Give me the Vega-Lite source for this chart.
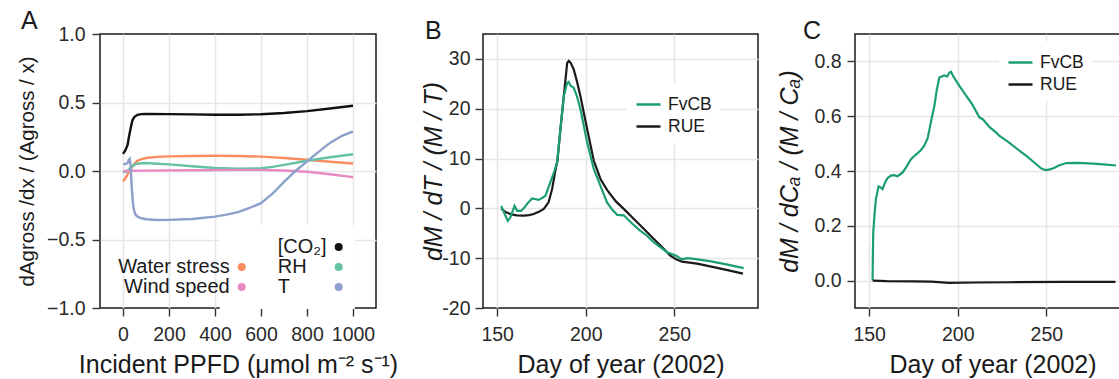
{
  "$schema": "https://vega.github.io/schema/vega-lite/v6.json",
  "autosize": {"type": "none"},
  "padding": {"left": 100, "top": 34, "right": 1019, "bottom": 345},
  "background": "white",
  "spacing": 107,
  "bounds": "flush",
  "resolve": {"scale": {"color": "independent", "x": "independent", "y": "independent"}, "legend": {"color": "independent"}},
  "config": {
    "font": "Liberation Sans",
    "view": {"stroke": "#1a1a1a", "strokeWidth": 1.5},
    "axis": {"domain": false, "grid": true, "gridColor": "#e6e6e6", "gridWidth": 1.6, "ticks": true, "tickColor": "#333333", "tickSize": 8, "tickWidth": 1.4, "labelFont": "Liberation Sans", "labelFontSize": 19.5, "labelColor": "#2a2a2a", "titleFont": "Liberation Sans", "titleFontSize": 25, "titleFontWeight": "normal", "titleColor": "#1a1a1a", "labelOverlap": false, "labelFlush": false},
    "axisX": {"labelPadding": 9, "titlePadding": 9},
    "legend": {"labelFont": "Liberation Sans", "labelColor": "#1a1a1a"},
    "title": {"font": "Liberation Sans", "fontSize": 25, "fontWeight": "normal", "anchor": "start", "frame": "group", "color": "#1a1a1a", "baseline": "alphabetic", "offset": -10}
  },
  "datasets": {
    "a": [
      {"v": "[CO₂]", "ppfd": 0, "val": 0.125}, {"v": "[CO₂]", "ppfd": 10, "val": 0.15}, {"v": "[CO₂]", "ppfd": 20, "val": 0.19}, {"v": "[CO₂]", "ppfd": 26, "val": 0.25}, {"v": "[CO₂]", "ppfd": 33, "val": 0.31}, {"v": "[CO₂]", "ppfd": 41, "val": 0.37}, {"v": "[CO₂]", "ppfd": 50, "val": 0.395}, {"v": "[CO₂]", "ppfd": 63, "val": 0.41}, {"v": "[CO₂]", "ppfd": 80, "val": 0.415}, {"v": "[CO₂]", "ppfd": 100, "val": 0.416}, {"v": "[CO₂]", "ppfd": 200, "val": 0.415}, {"v": "[CO₂]", "ppfd": 300, "val": 0.413}, {"v": "[CO₂]", "ppfd": 400, "val": 0.411}, {"v": "[CO₂]", "ppfd": 500, "val": 0.411}, {"v": "[CO₂]", "ppfd": 600, "val": 0.414}, {"v": "[CO₂]", "ppfd": 700, "val": 0.423}, {"v": "[CO₂]", "ppfd": 800, "val": 0.437}, {"v": "[CO₂]", "ppfd": 900, "val": 0.456}, {"v": "[CO₂]", "ppfd": 1000, "val": 0.476},
      {"v": "Water stress", "ppfd": 0, "val": -0.075}, {"v": "Water stress", "ppfd": 10, "val": -0.055}, {"v": "Water stress", "ppfd": 20, "val": -0.025}, {"v": "Water stress", "ppfd": 30, "val": 0.005}, {"v": "Water stress", "ppfd": 41, "val": 0.033}, {"v": "Water stress", "ppfd": 50, "val": 0.055}, {"v": "Water stress", "ppfd": 63, "val": 0.075}, {"v": "Water stress", "ppfd": 80, "val": 0.087}, {"v": "Water stress", "ppfd": 100, "val": 0.095}, {"v": "Water stress", "ppfd": 150, "val": 0.103}, {"v": "Water stress", "ppfd": 200, "val": 0.107}, {"v": "Water stress", "ppfd": 300, "val": 0.11}, {"v": "Water stress", "ppfd": 400, "val": 0.111}, {"v": "Water stress", "ppfd": 500, "val": 0.11}, {"v": "Water stress", "ppfd": 600, "val": 0.105}, {"v": "Water stress", "ppfd": 700, "val": 0.095}, {"v": "Water stress", "ppfd": 800, "val": 0.082}, {"v": "Water stress", "ppfd": 900, "val": 0.068}, {"v": "Water stress", "ppfd": 1000, "val": 0.055},
      {"v": "RH", "ppfd": 0, "val": -0.01}, {"v": "RH", "ppfd": 15, "val": -0.005}, {"v": "RH", "ppfd": 26, "val": 0.012}, {"v": "RH", "ppfd": 40, "val": 0.035}, {"v": "RH", "ppfd": 55, "val": 0.05}, {"v": "RH", "ppfd": 70, "val": 0.055}, {"v": "RH", "ppfd": 100, "val": 0.058}, {"v": "RH", "ppfd": 150, "val": 0.053}, {"v": "RH", "ppfd": 200, "val": 0.048}, {"v": "RH", "ppfd": 300, "val": 0.035}, {"v": "RH", "ppfd": 400, "val": 0.022}, {"v": "RH", "ppfd": 500, "val": 0.017}, {"v": "RH", "ppfd": 600, "val": 0.02}, {"v": "RH", "ppfd": 650, "val": 0.03}, {"v": "RH", "ppfd": 700, "val": 0.045}, {"v": "RH", "ppfd": 800, "val": 0.075}, {"v": "RH", "ppfd": 900, "val": 0.1}, {"v": "RH", "ppfd": 1000, "val": 0.122},
      {"v": "Wind speed", "ppfd": 0, "val": 0.0}, {"v": "Wind speed", "ppfd": 100, "val": 0.003}, {"v": "Wind speed", "ppfd": 300, "val": 0.006}, {"v": "Wind speed", "ppfd": 500, "val": 0.008}, {"v": "Wind speed", "ppfd": 600, "val": 0.008}, {"v": "Wind speed", "ppfd": 700, "val": 0.004}, {"v": "Wind speed", "ppfd": 800, "val": -0.005}, {"v": "Wind speed", "ppfd": 900, "val": -0.024}, {"v": "Wind speed", "ppfd": 1000, "val": -0.045},
      {"v": "T", "ppfd": 0, "val": 0.05}, {"v": "T", "ppfd": 10, "val": 0.05}, {"v": "T", "ppfd": 20, "val": 0.058}, {"v": "T", "ppfd": 26, "val": 0.085}, {"v": "T", "ppfd": 29, "val": 0.09}, {"v": "T", "ppfd": 32, "val": 0.06}, {"v": "T", "ppfd": 35, "val": -0.02}, {"v": "T", "ppfd": 38, "val": -0.12}, {"v": "T", "ppfd": 42, "val": -0.21}, {"v": "T", "ppfd": 46, "val": -0.27}, {"v": "T", "ppfd": 52, "val": -0.31}, {"v": "T", "ppfd": 60, "val": -0.33}, {"v": "T", "ppfd": 80, "val": -0.345}, {"v": "T", "ppfd": 100, "val": -0.352}, {"v": "T", "ppfd": 150, "val": -0.358}, {"v": "T", "ppfd": 200, "val": -0.357}, {"v": "T", "ppfd": 300, "val": -0.35}, {"v": "T", "ppfd": 400, "val": -0.333}, {"v": "T", "ppfd": 450, "val": -0.318}, {"v": "T", "ppfd": 500, "val": -0.3}, {"v": "T", "ppfd": 550, "val": -0.27}, {"v": "T", "ppfd": 600, "val": -0.235}, {"v": "T", "ppfd": 650, "val": -0.165}, {"v": "T", "ppfd": 700, "val": -0.08}, {"v": "T", "ppfd": 750, "val": 0.0}, {"v": "T", "ppfd": 800, "val": 0.07}, {"v": "T", "ppfd": 850, "val": 0.14}, {"v": "T", "ppfd": 900, "val": 0.205}, {"v": "T", "ppfd": 950, "val": 0.255}, {"v": "T", "ppfd": 1000, "val": 0.29}
    ],
    "b": [
      {"m": "RUE", "day": 152.3, "val": -0.1}, {"m": "RUE", "day": 155, "val": -0.8}, {"m": "RUE", "day": 157.5, "val": -1.15}, {"m": "RUE", "day": 161, "val": -1.4}, {"m": "RUE", "day": 165, "val": -1.47}, {"m": "RUE", "day": 168, "val": -1.35}, {"m": "RUE", "day": 170.6, "val": -1.14}, {"m": "RUE", "day": 173.5, "val": -0.7}, {"m": "RUE", "day": 176.3, "val": -0.1}, {"m": "RUE", "day": 179, "val": 1.2}, {"m": "RUE", "day": 181, "val": 3.9}, {"m": "RUE", "day": 183, "val": 7.9}, {"m": "RUE", "day": 184, "val": 9.5}, {"m": "RUE", "day": 185.7, "val": 15.9}, {"m": "RUE", "day": 187.6, "val": 22.5}, {"m": "RUE", "day": 189.5, "val": 29.2}, {"m": "RUE", "day": 190.4, "val": 29.6}, {"m": "RUE", "day": 191.5, "val": 29.2}, {"m": "RUE", "day": 193.2, "val": 27.9}, {"m": "RUE", "day": 195, "val": 25.5}, {"m": "RUE", "day": 197, "val": 22.5}, {"m": "RUE", "day": 199, "val": 19}, {"m": "RUE", "day": 200.8, "val": 15.9}, {"m": "RUE", "day": 204.5, "val": 9.6}, {"m": "RUE", "day": 208.3, "val": 5.9}, {"m": "RUE", "day": 212, "val": 3.7}, {"m": "RUE", "day": 217, "val": 1.4}, {"m": "RUE", "day": 222, "val": -0.3}, {"m": "RUE", "day": 227, "val": -2.1}, {"m": "RUE", "day": 232.7, "val": -4.1}, {"m": "RUE", "day": 238, "val": -6.0}, {"m": "RUE", "day": 244, "val": -8.1}, {"m": "RUE", "day": 247.7, "val": -9.5}, {"m": "RUE", "day": 251, "val": -10.2}, {"m": "RUE", "day": 254.3, "val": -10.7}, {"m": "RUE", "day": 262.8, "val": -11.1}, {"m": "RUE", "day": 272.2, "val": -11.8}, {"m": "RUE", "day": 280, "val": -12.4}, {"m": "RUE", "day": 288.7, "val": -13.1},
      {"m": "FvCB", "day": 152.3, "val": 0.5}, {"m": "FvCB", "day": 153.8, "val": -0.8}, {"m": "FvCB", "day": 156, "val": -2.5}, {"m": "FvCB", "day": 157.5, "val": -1.8}, {"m": "FvCB", "day": 159.8, "val": 0.5}, {"m": "FvCB", "day": 161.3, "val": -0.5}, {"m": "FvCB", "day": 163.5, "val": -0.5}, {"m": "FvCB", "day": 165, "val": 0.0}, {"m": "FvCB", "day": 166.9, "val": 0.9}, {"m": "FvCB", "day": 169.7, "val": 2.0}, {"m": "FvCB", "day": 173.5, "val": 1.7}, {"m": "FvCB", "day": 177.2, "val": 2.5}, {"m": "FvCB", "day": 180, "val": 5.2}, {"m": "FvCB", "day": 182, "val": 7.2}, {"m": "FvCB", "day": 183.8, "val": 9.2}, {"m": "FvCB", "day": 185.7, "val": 15.9}, {"m": "FvCB", "day": 187.6, "val": 22.5}, {"m": "FvCB", "day": 189.5, "val": 25.2}, {"m": "FvCB", "day": 190.3, "val": 25.4}, {"m": "FvCB", "day": 191.5, "val": 24.6}, {"m": "FvCB", "day": 193.2, "val": 24.2}, {"m": "FvCB", "day": 195, "val": 22.5}, {"m": "FvCB", "day": 197, "val": 19.9}, {"m": "FvCB", "day": 200.8, "val": 13.2}, {"m": "FvCB", "day": 204.5, "val": 7.9}, {"m": "FvCB", "day": 208.3, "val": 4.5}, {"m": "FvCB", "day": 212, "val": 1.2}, {"m": "FvCB", "day": 215, "val": -0.3}, {"m": "FvCB", "day": 217.7, "val": -1.3}, {"m": "FvCB", "day": 221.4, "val": -1.4}, {"m": "FvCB", "day": 226, "val": -3.0}, {"m": "FvCB", "day": 230.8, "val": -4.5}, {"m": "FvCB", "day": 234, "val": -5.3}, {"m": "FvCB", "day": 238.3, "val": -6.8}, {"m": "FvCB", "day": 242, "val": -7.8}, {"m": "FvCB", "day": 245.9, "val": -8.8}, {"m": "FvCB", "day": 249.6, "val": -9.3}, {"m": "FvCB", "day": 251.5, "val": -9.6}, {"m": "FvCB", "day": 253.4, "val": -10.1}, {"m": "FvCB", "day": 255, "val": -10.2}, {"m": "FvCB", "day": 257.2, "val": -10.0}, {"m": "FvCB", "day": 260, "val": -10.1}, {"m": "FvCB", "day": 270, "val": -10.6}, {"m": "FvCB", "day": 280, "val": -11.3}, {"m": "FvCB", "day": 289.1, "val": -12.0}
    ],
    "c": [
      {"m": "FvCB", "day": 151.9, "val": 0.0}, {"m": "FvCB", "day": 152.1, "val": 0.1}, {"m": "FvCB", "day": 152.3, "val": 0.176}, {"m": "FvCB", "day": 153, "val": 0.24}, {"m": "FvCB", "day": 153.8, "val": 0.298}, {"m": "FvCB", "day": 155.3, "val": 0.344}, {"m": "FvCB", "day": 156.5, "val": 0.34}, {"m": "FvCB", "day": 157.5, "val": 0.334}, {"m": "FvCB", "day": 159.4, "val": 0.364}, {"m": "FvCB", "day": 160.5, "val": 0.375}, {"m": "FvCB", "day": 162.3, "val": 0.383}, {"m": "FvCB", "day": 164, "val": 0.385}, {"m": "FvCB", "day": 166, "val": 0.381}, {"m": "FvCB", "day": 168.9, "val": 0.395}, {"m": "FvCB", "day": 171, "val": 0.415}, {"m": "FvCB", "day": 173.6, "val": 0.443}, {"m": "FvCB", "day": 176.4, "val": 0.46}, {"m": "FvCB", "day": 179, "val": 0.475}, {"m": "FvCB", "day": 181.1, "val": 0.492}, {"m": "FvCB", "day": 183, "val": 0.52}, {"m": "FvCB", "day": 184, "val": 0.551}, {"m": "FvCB", "day": 185.5, "val": 0.6}, {"m": "FvCB", "day": 186.8, "val": 0.637}, {"m": "FvCB", "day": 188, "val": 0.69}, {"m": "FvCB", "day": 189.6, "val": 0.741}, {"m": "FvCB", "day": 191, "val": 0.745}, {"m": "FvCB", "day": 192.4, "val": 0.749}, {"m": "FvCB", "day": 194, "val": 0.745}, {"m": "FvCB", "day": 195.3, "val": 0.759}, {"m": "FvCB", "day": 196.2, "val": 0.762}, {"m": "FvCB", "day": 197.5, "val": 0.745}, {"m": "FvCB", "day": 199.1, "val": 0.729}, {"m": "FvCB", "day": 201, "val": 0.71}, {"m": "FvCB", "day": 204.8, "val": 0.674}, {"m": "FvCB", "day": 208, "val": 0.645}, {"m": "FvCB", "day": 212.3, "val": 0.595}, {"m": "FvCB", "day": 214.1, "val": 0.589}, {"m": "FvCB", "day": 218, "val": 0.56}, {"m": "FvCB", "day": 221.7, "val": 0.54}, {"m": "FvCB", "day": 223.6, "val": 0.528}, {"m": "FvCB", "day": 229.2, "val": 0.503}, {"m": "FvCB", "day": 233, "val": 0.483}, {"m": "FvCB", "day": 238.7, "val": 0.455}, {"m": "FvCB", "day": 243, "val": 0.432}, {"m": "FvCB", "day": 247, "val": 0.41}, {"m": "FvCB", "day": 249, "val": 0.404}, {"m": "FvCB", "day": 251, "val": 0.404}, {"m": "FvCB", "day": 254, "val": 0.41}, {"m": "FvCB", "day": 257, "val": 0.42}, {"m": "FvCB", "day": 261.3, "val": 0.429}, {"m": "FvCB", "day": 268, "val": 0.43}, {"m": "FvCB", "day": 276.4, "val": 0.427}, {"m": "FvCB", "day": 282, "val": 0.424}, {"m": "FvCB", "day": 289.3, "val": 0.42},
      {"m": "RUE", "day": 152, "val": 0.0}, {"m": "RUE", "day": 160, "val": -0.002}, {"m": "RUE", "day": 175, "val": -0.003}, {"m": "RUE", "day": 185, "val": -0.004}, {"m": "RUE", "day": 195, "val": -0.008}, {"m": "RUE", "day": 210, "val": -0.007}, {"m": "RUE", "day": 230, "val": -0.006}, {"m": "RUE", "day": 260, "val": -0.005}, {"m": "RUE", "day": 289, "val": -0.005}
    ]
  },
  "hconcat": [
    {
      "width": 276, "height": 274,
      "title": {"text": "A", "dx": -79},
      "data": {"name": "a"},
      "mark": {"type": "line", "strokeWidth": 2.4, "clip": true},
      "encoding": {
        "x": {"field": "ppfd", "type": "quantitative", "scale": {"domain": [-100, 1100], "nice": false, "zero": false},
              "axis": {"values": [0, 200, 400, 600, 800, 1000], "format": "d", "title": "Incident PPFD (μmol m⁻² s⁻¹)"}},
        "y": {"field": "val", "type": "quantitative", "scale": {"domain": [-1, 1], "nice": false, "zero": false},
              "axis": {"values": [-1, -0.5, 0, 0.5, 1], "format": ".1f", "title": "dAgross /dx / (Agross / x)", "titleFontSize": 20.5, "labelPadding": 7, "titlePadding": 9,
                       "gridOpacity": {"condition": {"test": "abs(datum.value) == 1", "value": 0}, "value": 1}}},
        "color": {"field": "v", "type": "nominal",
                  "scale": {"domain": [" ", "Water stress", "Wind speed", "[CO₂]", "RH", "T"], "range": ["transparent", "#fc8d62", "#e78ac3", "#111111", "#66c2a5", "#8da0cb"]},
                  "legend": {"title": null, "orient": "none", "legendX": 119.7, "legendY": 191, "columns": 2, "columnPadding": 32, "rowPadding": -11.3, "padding": 12, "fillColor": "white",
                             "symbolType": "circle", "symbolSize": 64, "symbolStrokeWidth": 0, "labelFontSize": 20, "labelAlign": "right", "labelOffset": -22,
                             "encode": {"symbols": {"update": {"fill": {"signal": "{'Water stress': '#fc8d62', 'Wind speed': '#e78ac3', '[CO₂]': '#111111', 'RH': '#66c2a5', 'T': '#8da0cb'}[datum.value] || 'transparent'"}, "fillOpacity": {"value": 1}, "strokeWidth": {"value": 0}}},
                                        "labels": {"update": {"align": {"signal": "indexof(['[CO₂]','RH','T'], datum.value) >= 0 ? 'left' : 'right'"}, "dx": {"signal": "indexof(['[CO₂]','RH','T'], datum.value) >= 0 ? -49 : 0"}}}}}}
      }
    },
    {
      "spacing": 97,
      "bounds": "flush",
      "resolve": {"scale": {"color": "independent", "x": "independent", "y": "independent"}, "legend": {"color": "independent"}},
      "hconcat": [
        {
          "width": 275, "height": 274,
          "title": {"text": "B", "dx": -58},
          "data": {"name": "b"},
          "mark": {"type": "line", "strokeWidth": 2.2, "clip": true},
          "encoding": {
            "x": {"field": "day", "type": "quantitative", "scale": {"domain": [142, 297.2], "nice": false, "zero": false},
                  "axis": {"values": [150, 200, 250], "title": "Day of year (2002)"}},
            "y": {"field": "val", "type": "quantitative", "scale": {"domain": [-20, 35], "nice": false, "zero": false},
                  "axis": {"values": [-20, -10, 0, 10, 20, 30], "labelExpr": "replace(datum.label, '−', '-')", "title": "dM / dT / (M / T)", "titleFontStyle": "italic", "labelPadding": 5, "titlePadding": -5,
                           "gridOpacity": {"condition": {"test": "datum.value == -20", "value": 0}, "value": 1}}},
            "color": {"field": "m", "type": "nominal", "scale": {"domain": ["FvCB", "RUE"], "range": ["#1b9e77", "#1a1a1a"]},
                      "legend": {"title": null, "orient": "none", "legendX": 144, "legendY": 49, "padding": 8, "fillColor": "white", "symbolType": "stroke", "symbolSize": 576, "symbolStrokeWidth": 2.5, "labelFontSize": 17.5, "labelOffset": 6, "rowPadding": -0.5}}
          }
        },
        {
          "width": 275, "height": 274,
          "title": {"text": "C", "dx": -52},
          "data": {"name": "c"},
          "mark": {"type": "line", "strokeWidth": 2.2, "clip": true},
          "encoding": {
            "x": {"field": "day", "type": "quantitative", "scale": {"domain": [142, 297.2], "nice": false, "zero": false},
                  "axis": {"values": [150, 200, 250], "title": "Day of year (2002)"}},
            "y": {"field": "val", "type": "quantitative", "scale": {"domain": [-0.1, 0.9], "nice": false, "zero": false},
                  "axis": {"values": [0, 0.2, 0.4, 0.6, 0.8], "format": ".1f", "title": "dM / dCₐ / (M / Cₐ)", "titleFontStyle": "italic", "labelPadding": 6, "titlePadding": 11}},
            "color": {"field": "m", "type": "nominal", "scale": {"domain": ["FvCB", "RUE"], "range": ["#1b9e77", "#1a1a1a"]},
                      "legend": {"title": null, "orient": "none", "legendX": 144, "legendY": 7, "padding": 8, "fillColor": "white", "symbolType": "stroke", "symbolSize": 576, "symbolStrokeWidth": 2.5, "labelFontSize": 17.5, "labelOffset": 6, "rowPadding": -2.5}}
          }
        }
      ]
    }
  ]
}
